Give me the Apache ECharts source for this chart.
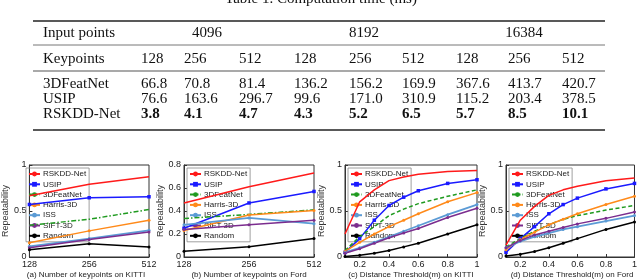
<!DOCTYPE html>
<html><head><meta charset="utf-8">
<script src="https://cdn.jsdelivr.net/npm/echarts@6/dist/echarts.min.js"></script>
<style>html,body{margin:0;padding:0;background:#fff}#c{width:640px;height:280px}</style>
</head><body><div id="c"></div>
<script>
// ---------- Table data ----------
const tableTitle = 'Table 1. Computation time (ms)';
const inputPoints = ['4096', '8192', '16384'];
const keypointsRow = ['128', '256', '512', '128', '256', '512', '128', '256', '512'];
const featNetTimes = ['66.8', '70.8', '81.4', '136.2', '156.2', '169.9', '367.6', '413.7', '420.7'];
const usipTimes = ['76.6', '163.6', '296.7', '99.6', '171.0', '310.9', '115.2', '203.4', '378.5'];
const rskddTimes = ['3.8', '4.1', '4.7', '4.3', '5.2', '6.5', '5.7', '8.5', '10.1'];

// ---------- Chart data ----------
const methods = ['RSKDD-Net', 'USIP', '3DFeatNet', 'Harris-3D', 'ISS', 'SIFT-3D', 'Random'];
const keypointCats = ['128', '256', '512'];
const thresholds = [0.1, 0.2, 0.3, 0.4, 0.5, 0.6, 0.8, 1.0];
const captions = ['(a) Number of keypoints on KITTI', '(b) Number of keypoints on Ford',
  '(c) Distance Threshold(m) on KITTI', '(d) Distance Threshold(m) on Ford'];

// (a) keypoints on KITTI
const kpKittiRSKDD = [0.665, 0.79, 0.873];
const kpKittiUSIP = [0.571, 0.644, 0.655];
const kpKittiFeat = [0.345, 0.41, 0.516];
const kpKittiHarris = [0.156, 0.284, 0.40];
const kpKittiISS = [0.116, 0.20, 0.29];
const kpKittiSIFT = [0.10, 0.19, 0.273];
const kpKittiRandom = [0.08, 0.145, 0.109];
// (b) keypoints on Ford
const kpFordRSKDD = [0.47, 0.61, 0.73];
const kpFordUSIP = [0.25, 0.47, 0.57];
const kpFordFeat = [0.335, 0.37, 0.41];
const kpFordHarris = [0.23, 0.365, 0.405];
const kpFordISS = [0.28, 0.34, 0.29];
const kpFordSIFT = [0.24, 0.28, 0.32];
const kpFordRandom = [0.05, 0.09, 0.16];
// (c) distance threshold on KITTI
const dtKittiRSKDD = [0.25, 0.60, 0.73, 0.83, 0.87, 0.90, 0.93, 0.94];
const dtKittiUSIP = [0.05, 0.20, 0.40, 0.56, 0.65, 0.72, 0.80, 0.84];
const dtKittiFeat = [0.07, 0.22, 0.33, 0.45, 0.52, 0.58, 0.66, 0.73];
const dtKittiHarris = [0.06, 0.16, 0.25, 0.33, 0.40, 0.47, 0.60, 0.70];
const dtKittiISS = [0.05, 0.10, 0.16, 0.22, 0.28, 0.34, 0.46, 0.57];
const dtKittiSIFT = [0.04, 0.09, 0.15, 0.21, 0.26, 0.31, 0.43, 0.53];
const dtKittiRandom = [0.005, 0.02, 0.04, 0.07, 0.11, 0.15, 0.25, 0.35];
// (d) distance threshold on Ford
const dtFordRSKDD = [0.13, 0.40, 0.55, 0.67, 0.73, 0.77, 0.83, 0.86];
const dtFordUSIP = [0.05, 0.20, 0.33, 0.47, 0.57, 0.64, 0.74, 0.80];
const dtFordFeat = [0.11, 0.20, 0.28, 0.35, 0.41, 0.45, 0.51, 0.56];
const dtFordHarris = [0.08, 0.19, 0.27, 0.35, 0.41, 0.47, 0.57, 0.66];
const dtFordISS = [0.10, 0.17, 0.22, 0.26, 0.30, 0.33, 0.39, 0.45];
const dtFordSIFT = [0.10, 0.18, 0.24, 0.28, 0.32, 0.36, 0.42, 0.49];
const dtFordRandom = [0.01, 0.03, 0.06, 0.10, 0.15, 0.20, 0.30, 0.38];

const chartSeries = [
  [kpKittiRSKDD, kpKittiUSIP, kpKittiFeat, kpKittiHarris, kpKittiISS, kpKittiSIFT, kpKittiRandom],
  [kpFordRSKDD, kpFordUSIP, kpFordFeat, kpFordHarris, kpFordISS, kpFordSIFT, kpFordRandom],
  [dtKittiRSKDD, dtKittiUSIP, dtKittiFeat, dtKittiHarris, dtKittiISS, dtKittiSIFT, dtKittiRandom],
  [dtFordRSKDD, dtFordUSIP, dtFordFeat, dtFordHarris, dtFordISS, dtFordSIFT, dtFordRandom]
];

// ---------- Styles ----------
const colors = ['#ff1a1a', '#1a1aff', '#1f9a1f', '#ff8a1a', '#5b9bd5', '#7b2d8e', '#000000'];
const symbols = ['none', 'rect', 'none', 'circle', 'circle', 'circle', 'circle'];
const SANS = 'Liberation Sans, Arial, sans-serif';
const SERIF = 'Liberation Serif, Times New Roman, serif';

const grids = [
  { left: 23, width: 126 },
  { left: 184, width: 130 },
  { left: 345, width: 132 },
  { left: 506, width: 132 }
];
const gridTop = 165, gridHeight = 92;

const option = {
  animation: false,
  backgroundColor: '#fff',
  grid: grids.map(g => ({ left: g.left, width: g.width, top: gridTop, height: gridHeight,
    show: true, borderColor: '#333', borderWidth: 1, containLabel: false })),
  xAxis: grids.map((g, i) => {
    const base = {
      gridIndex: i,
      axisLine: { show: true, onZero: false, lineStyle: { color: '#333', width: 1 } },
      axisTick: { show: true, inside: true, length: 3, lineStyle: { color: '#333' } },
      axisLabel: { fontFamily: SANS, fontSize: 9, color: '#222', margin: 3 },
      splitLine: { show: false }
    };
    if (i < 2) {
      return Object.assign(base, { type: 'category', data: keypointCats, boundaryGap: false });
    }
    return Object.assign(base, { type: 'value', min: 0.1, max: 1,
      axisTick: Object.assign({}, base.axisTick, { customValues: [0.2, 0.4, 0.6, 0.8, 1] }),
      axisLabel: Object.assign({}, base.axisLabel, { customValues: [0.2, 0.4, 0.6, 0.8, 1] }) });
  }),
  yAxis: grids.map((g, i) => ({
    gridIndex: i, type: 'value', min: 0, max: i === 1 ? 0.8 : 1, interval: i === 1 ? 0.2 : 0.5,
    name: 'Repeatability', nameLocation: 'middle', nameRotate: 90, nameGap: 12,
    nameTextStyle: { fontFamily: SANS, fontSize: 9, color: '#333' },
    axisLine: { show: true, lineStyle: { color: '#333', width: 1 } },
    axisTick: { show: true, inside: true, length: 3, lineStyle: { color: '#333' } },
    axisLabel: { fontFamily: SANS, fontSize: 9, color: '#222', margin: 3 },
    splitLine: { show: false }
  })),
  legend: grids.map((g, i) => ({
    data: methods, orient: 'vertical', left: g.left + 3, top: 168, z: 1,
    itemWidth: 11, itemHeight: 6, itemGap: 2.3, padding: [2, 3, 2, 2],
    borderColor: '#888', borderWidth: 0.8, backgroundColor: 'rgba(255,255,255,0)',
    textStyle: { fontFamily: SANS, fontSize: 8, color: '#222', padding: [0, 0, 0, -2], lineHeight: 7 },
    selectedMode: false
  })),
  series: [],
  graphic: []
};

chartSeries.forEach((list, ci) => {
  list.forEach((vals, mi) => {
    const data = ci < 2 ? vals : vals.map((v, k) => [thresholds[k], v]);
    let lineType = 'solid';
    if (mi === 2) lineType = ci < 2 ? [5, 2, 1.5, 2] : [4, 2.5];
    option.series.push({
      type: 'line', name: methods[mi], xAxisIndex: ci, yAxisIndex: ci, data,
      symbol: symbols[mi], symbolSize: mi === 1 ? 3.5 : 3, showSymbol: symbols[mi] !== 'none',
      color: colors[mi], z: 3,
      lineStyle: { color: colors[mi], width: mi === 4 ? 1.8 : 1.5, type: lineType },
      itemStyle: { color: colors[mi] }
    });
  });
});

// captions
captions.forEach((t, i) => {
  option.graphic.push({ type: 'text', x: grids[i].left + grids[i].width / 2, y: 275,
    style: { text: t, fontFamily: SANS, fontSize: 8, fill: '#222', align: 'center', verticalAlign: 'middle' } });
});

// ---------- Table graphics ----------
const colX = [141, 184, 239, 294, 349, 402, 456, 508, 562];
const groupX = [207, 364, 524];
const T = (text, x, y, bold, align) => ({ type: 'text', x, y,
  style: { text, fontFamily: SERIF, fontSize: 15, fontWeight: bold ? 'bold' : 'normal', fill: '#111',
    align: align || 'left', verticalAlign: 'middle' } });
const L = (y, w, c) => ({ type: 'line', shape: { x1: 33, y1: y, x2: 605, y2: y }, style: { stroke: c, lineWidth: w } });

option.graphic.push(T(tableTitle, 321, -1, false, 'center'));
option.graphic.push(L(21, 1.6, '#222'), L(45, 1, '#777'), L(71, 1.2, '#555'), L(130, 1.6, '#222'));
option.graphic.push(T('Input points', 43, 33));
inputPoints.forEach((t, i) => option.graphic.push(T(t, groupX[i], 33, false, 'center')));
option.graphic.push(T('Keypoints', 43, 59));
keypointsRow.forEach((t, i) => option.graphic.push(T(t, colX[i], 59)));
option.graphic.push(T('3DFeatNet', 43, 84));
featNetTimes.forEach((t, i) => option.graphic.push(T(t, colX[i], 84)));
option.graphic.push(T('USIP', 43, 99));
usipTimes.forEach((t, i) => option.graphic.push(T(t, colX[i], 99)));
option.graphic.push(T('RSKDD-Net', 43, 114));
rskddTimes.forEach((t, i) => option.graphic.push(T(t, colX[i], 114, true)));

const chart = echarts.init(document.getElementById('c'), null, { renderer: 'canvas' });
chart.setOption(option);
</script></body></html>
